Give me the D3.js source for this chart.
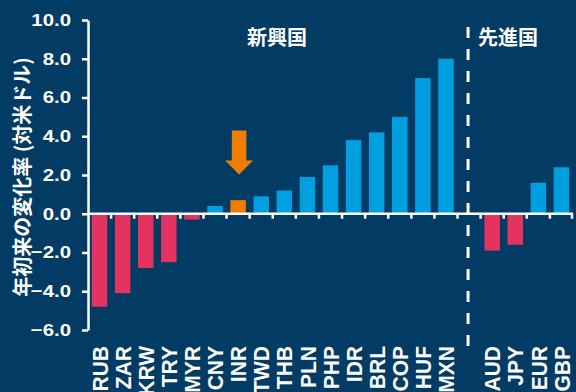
<!DOCTYPE html>
<html>
<head>
<meta charset="utf-8">
<script src="https://cdn.jsdelivr.net/npm/d3@7"></script>
<style>
  html, body { margin: 0; padding: 0; background: #023b63; }
  svg { display: block; }
  text { font-family: "Liberation Sans", Arial, sans-serif; font-weight: bold; fill: #fff; }
  .jp { font-family: "Noto Sans CJK JP", sans-serif; font-weight: bold; }
</style>
</head>
<body>
<script>
// currencies, left block = emerging, right block = developed
const emCurrencies = ['RUB','ZAR','KRW','TRY','MYR','CNY','INR','TWD','THB','PLN','PHP','IDR','BRL','COP','HUF','MXN'];
const emValues     = [-4.8, -4.1, -2.8, -2.5, -0.3, 0.4, 0.7, 0.9, 1.2, 1.9, 2.5, 3.8, 4.2, 5.0, 7.0, 8.0];
const dmCurrencies = ['AUD','JPY','EUR','GBP'];
const dmValues     = [-1.9, -1.6, 1.6, 2.4];
const yTicks = [10, 8, 6, 4, 2, 0, -2, -4, -6];
const highlight = 'INR';

const W = 576, H = 392;
const m = {left: 88, right: 3, top: 20, bottom: 62};

const GAP = '__gap__';
const domain = [...emCurrencies, GAP, ...dmCurrencies];
const data = [
  ...emCurrencies.map((c, i) => ({cur: c, v: emValues[i]})),
  ...dmCurrencies.map((c, i) => ({cur: c, v: dmValues[i]}))
];

const svg = d3.select('body').append('svg').attr('width', W).attr('height', H);
svg.append('rect').attr('width', W).attr('height', H).attr('fill', '#023b63');

const x = d3.scaleBand().domain(domain).range([m.left, W - m.right]).paddingInner(0.33).paddingOuter(0.165);
const xb = d3.scaleBand().domain(domain).range([m.left, W - m.right]);  // band edges
const y = d3.scaleLinear().domain([-6, 10]).range([H - m.bottom, m.top]);

// bars
svg.append('g').selectAll('rect').data(data).join('rect')
  .attr('x', d => x(d.cur))
  .attr('width', x.bandwidth())
  .attr('y', d => y(Math.max(0, d.v)))
  .attr('height', d => Math.abs(y(d.v) - y(0)))
  .attr('fill', d => d.cur === highlight ? '#ef7d00' : (d.v < 0 ? '#e5335f' : '#00a0e0'));

// y axis
const sx = 1.2;
const yAxis = svg.append('g').attr('transform', `translate(${m.left},0)`)
  .call(d3.axisLeft(y).tickValues(yTicks).tickSize(6).tickSizeOuter(0).tickPadding(12).tickFormat(d3.format('.1f')));
yAxis.select('.domain').attr('stroke', '#fff').attr('stroke-width', 2.5);
yAxis.selectAll('.tick line').attr('stroke', '#fff').attr('stroke-width', 2.5);
yAxis.selectAll('.tick text')
  .attr('font-size', 17).attr('font-family', null)
  .attr('x', -17 / sx).attr('transform', `scale(${sx},1)`);

// baseline with band-edge ticks
const zero = svg.append('g');
zero.append('line').attr('x1', m.left).attr('x2', W - m.right).attr('y1', y(0)).attr('y2', y(0))
  .attr('stroke', '#fff').attr('stroke-width', 2.5);
const edges = domain.slice(1).map(d => xb(d)).concat([W - m.right - 1]);
zero.selectAll('line.e').data(edges).join('line').attr('class', 'e')
  .attr('x1', d => d).attr('x2', d => d).attr('y1', y(0)).attr('y2', y(0) + 5)
  .attr('stroke', '#fff').attr('stroke-width', 2.5);

// category labels
const xAxis = svg.append('g').attr('transform', `translate(0,${y(-6) + 16})`)
  .call(d3.axisBottom(x).tickSize(0).tickFormat(d => d === GAP ? '' : d));
xAxis.select('.domain').remove();
xAxis.selectAll('.tick text')
  .attr('font-size', 21).attr('font-family', null)
  .attr('text-anchor', 'end').attr('x', 0).attr('y', 0).attr('dy', '0.36em')
  .attr('transform', 'rotate(-90) scale(1,1.08)');

// divider between groups
const gx = xb(GAP) + xb.bandwidth() / 2 - 1;
svg.append('line').attr('x1', gx).attr('x2', gx).attr('y1', 27).attr('y2', 352)
  .attr('stroke', '#fff').attr('stroke-width', 3).attr('stroke-dasharray', '11,11');

// group titles
svg.append('text').attr('class', 'jp').attr('x', 277).attr('y', 45).attr('text-anchor', 'middle')
  .attr('font-size', 20).text('新興国');
svg.append('text').attr('class', 'jp').attr('x', 508).attr('y', 45).attr('text-anchor', 'middle')
  .attr('font-size', 20).text('先進国');

// y title
svg.append('text').attr('class', 'jp')
  .attr('transform', `translate(23,${(y(10) + y(-6)) / 2 + 2}) rotate(-90)`)
  .attr('text-anchor', 'middle').attr('dy', '0.35em').attr('font-size', 20)
  .text('年初来の変化率 (対米ドル)');

// arrow pointing at highlighted bar
const ax = x(highlight) + x.bandwidth() / 2 + 1;
const sw = 7.3, hw = 14;
const aTop = y(4.3), aHead = y(2.75), aTip = y(2.03);
svg.append('path')
  .attr('d', `M${ax - sw},${aTop}H${ax + sw}V${aHead}H${ax + hw}L${ax},${aTip}L${ax - hw},${aHead}H${ax - sw}Z`)
  .attr('fill', '#ef7d00');
</script>
</body>
</html>
